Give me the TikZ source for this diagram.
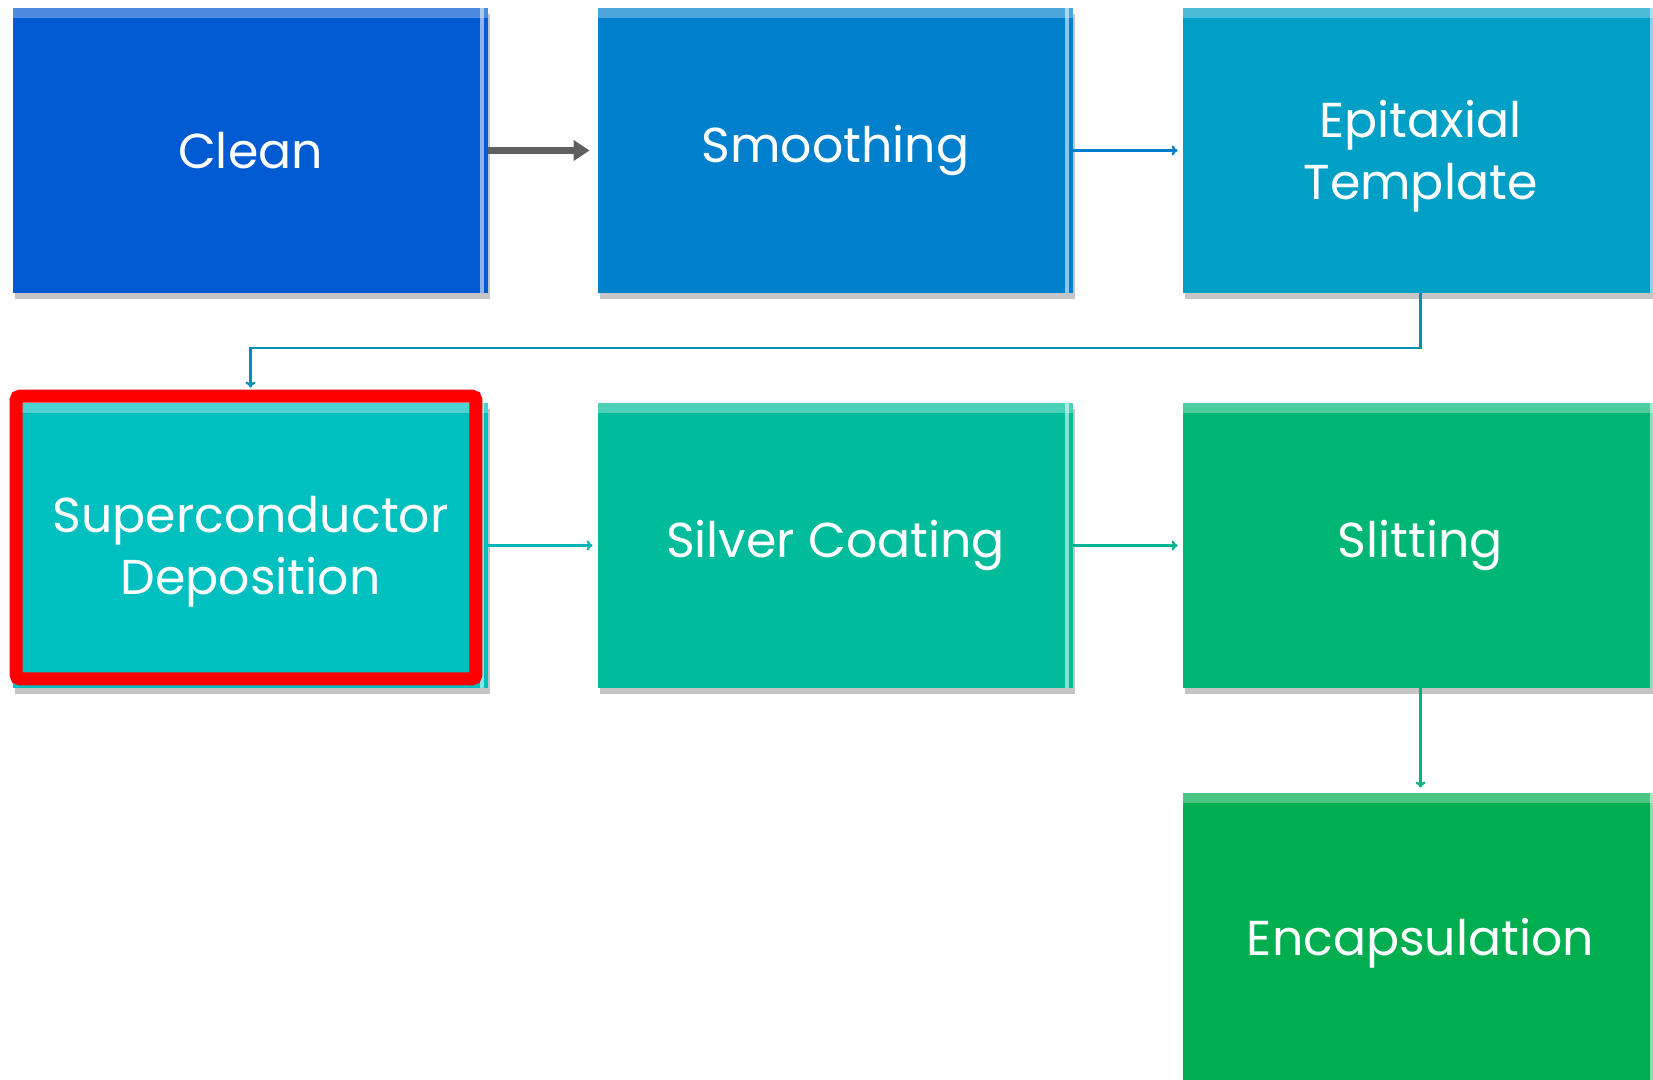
\documentclass[tikz,border=0pt]{standalone}
\usepackage{fontspec}
\setmainfont{Poppins}
\usetikzlibrary{positioning,calc,shadows,arrows.meta}
\definecolor{cleanblue}{RGB}{0,90,210}
\definecolor{smoothblue}{RGB}{0,128,204}
\definecolor{epitaxblue}{RGB}{0,160,198}
\definecolor{supconteal}{RGB}{0,191,191}
\definecolor{silvergreen}{RGB}{0,188,154}
\definecolor{slitgreen}{RGB}{0,182,118}
\definecolor{encapgreen}{RGB}{0,174,80}
\definecolor{arrowgray}{RGB}{95,95,95}
\newcommand\TwoLines[2]{\begin{tabular}{@{}c@{}}\rule{0pt}{27pt}#1\\#2\end{tabular}}
\tikzset{
  stepbox/.style={
    shape = rectangle,
    minimum width = 237.5pt,
    minimum height = 142.5pt,
    inner sep = 0pt,
    text = white,
    align = center,
    font = \fontsize{24.5}{31}\selectfont,
    drop shadow = {shadow xshift=1pt, shadow yshift=-3pt, fill=black!45, opacity=0.5},
    path picture = {
      \fill[white, opacity=0.3] (path picture bounding box.north west) rectangle ([yshift=-5pt]path picture bounding box.north east);
      \fill[white, opacity=0.55] ([xshift=-4pt]path picture bounding box.north east) rectangle ([xshift=-2pt]path picture bounding box.south east);
    }
  },
  thickarrow/.style={
    draw = arrowgray,
    line width = 3.5pt,
    shorten > = 4pt,
    -{Triangle[length=8pt,width=10pt]}
  },
  thinarrow/.style={
    line width = 1.1pt,
    shorten > = 2.5pt,
    -{To[length=3pt,width=5pt]}
  },
  redframe/.style={
    draw = red,
    line width = 6.5pt,
    rounded corners = 2pt
  }
}
\begin{document}
\begin{tikzpicture}[x=0.5pt,y=-0.5pt]
\useasboundingbox (0,0) rectangle (1653,1080);

% first row
\node[stepbox, fill=cleanblue] (clean) at (250.5,150.5) {Clean};
\node[stepbox, fill=smoothblue] (smooth) at (835.5,150.5) {Smoothing};
\node[stepbox, fill=epitaxblue] (epitax) at (1420.5,150.5) {\TwoLines{Epitaxial}{Template}};

% second row
\node[stepbox, fill=supconteal] (supcon) at (250.5,545.5) {\TwoLines{Superconductor}{Deposition}};
\node[stepbox, fill=silvergreen] (silver) at (835.5,545.5) {Silver Coating};
\node[stepbox, fill=slitgreen] (slit) at (1420.5,545.5) {Slitting};

% third row, runs off the page
\node[stepbox, fill=encapgreen, minimum height=150pt] (encap) at (1420.5,943) {Encapsulation};

% connectors
\draw[thickarrow] (clean) -- (smooth);
\draw[thinarrow, draw=smoothblue] (smooth) -- (epitax);
\draw[thinarrow, draw=epitaxblue!90!black, shorten >=7.5pt] (epitax.south) -- ++(0,55) -| (supcon.north);
\draw[thinarrow, draw=supconteal!95!black] (supcon) -- (silver);
\draw[thinarrow, draw=silvergreen!95!black] (silver) -- (slit);
\draw[thinarrow, draw=slitgreen] (slit) -- (encap);

% highlight
\draw[redframe] ($(supcon.north west)+(3.5,-6.5)$) rectangle ($(supcon.south east)+(-12.5,-9.5)$);
\end{tikzpicture}
\end{document}
